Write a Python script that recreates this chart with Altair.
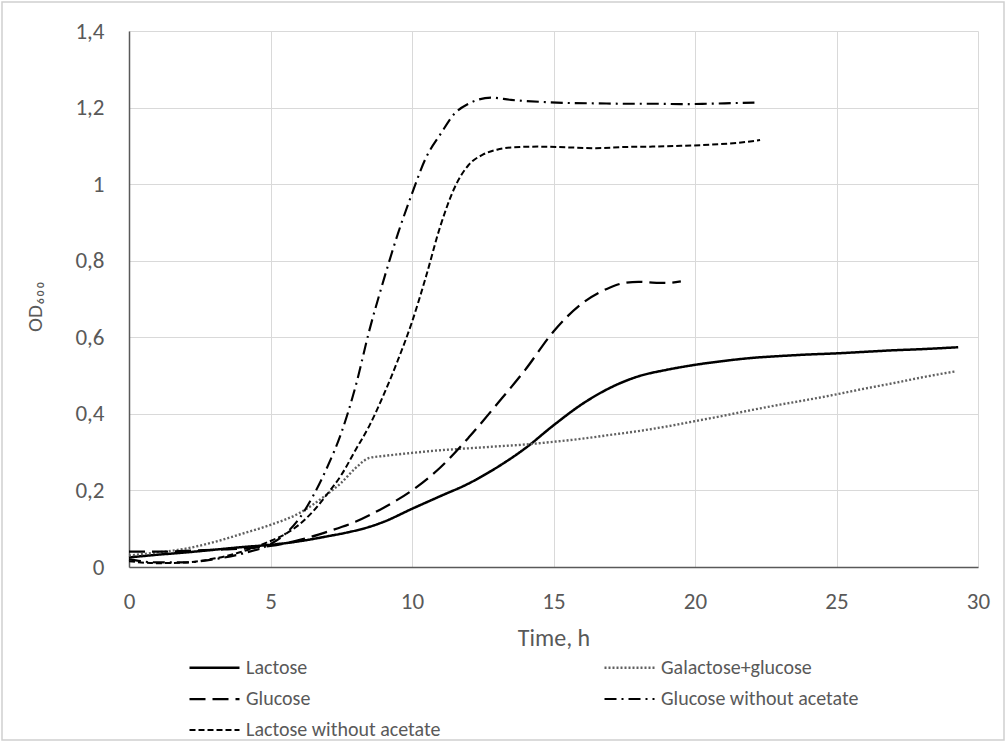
import altair as alt
import pandas as pd

series_names = ["Lactose", "Galactose+glucose", "Glucose",
                "Glucose without acetate", "Lactose without acetate"]

lac_t = [0, 1, 2, 3, 4, 5, 6, 7, 7.7, 8.5, 9, 10, 11, 12, 13, 14, 15, 16, 17, 18,
         19, 20, 21, 22, 23, 24, 25, 26, 27, 28, 29.3]
lac_v = [0.025, 0.032, 0.038, 0.045, 0.052, 0.058, 0.067, 0.08, 0.09, 0.105, 0.118,
         0.152, 0.185, 0.218, 0.26, 0.31, 0.37, 0.425, 0.468, 0.498, 0.515, 0.528,
         0.538, 0.546, 0.551, 0.555, 0.558, 0.562, 0.566, 0.569, 0.574]

gal_t = [0, 1, 2, 3, 4, 5, 6, 7, 7.5, 8, 8.5, 9, 10, 11, 12, 13, 14, 15, 16, 17,
         18, 19, 20, 21, 22, 23, 24, 25, 26, 27, 28, 29.2]
gal_v = [0.03, 0.038, 0.048, 0.065, 0.087, 0.11, 0.14, 0.19, 0.22, 0.258, 0.285,
         0.29, 0.298, 0.305, 0.31, 0.315, 0.32, 0.327, 0.335, 0.345, 0.355, 0.367,
         0.381, 0.395, 0.41, 0.424, 0.437, 0.451, 0.466, 0.48, 0.495, 0.511]

glu_t = [0, 1, 2, 3, 4, 5, 6, 7, 8, 9, 10, 11, 12, 13, 14, 15, 16, 17, 17.5, 18,
         18.5, 19, 19.5]
glu_v = [0.04, 0.04, 0.042, 0.045, 0.048, 0.055, 0.07, 0.092, 0.118, 0.155, 0.2,
         0.26, 0.338, 0.425, 0.515, 0.615, 0.688, 0.73, 0.742, 0.745, 0.743, 0.742,
         0.746]

gwa_t = [0, 1, 2, 3, 4, 5, 5.5, 6, 6.5, 7, 7.5, 8, 8.5, 9, 9.5, 10, 10.5, 11, 11.5,
         12, 12.8, 13.5, 14.5, 15.5, 16.5, 17.5, 18.5, 19.5, 20.5, 21.5, 22.1]
gwa_v = [0.02, 0.012, 0.012, 0.02, 0.035, 0.06, 0.085, 0.125, 0.185, 0.26, 0.35,
         0.47, 0.62, 0.75, 0.87, 0.975, 1.07, 1.13, 1.184, 1.21, 1.226, 1.22, 1.215,
         1.212, 1.211, 1.21, 1.21, 1.209, 1.21, 1.212, 1.213]

lwa_t = [0, 1, 2, 3, 4, 5, 5.5, 6, 6.5, 7, 7.5, 8, 8.5, 9, 9.5, 10, 10.5, 11, 11.5,
         12, 12.5, 13, 13.5, 14.5, 15.5, 16.5, 17.5, 18.5, 19.5, 20.5, 21.5, 22.3]
lwa_v = [0.015, 0.01, 0.012, 0.022, 0.04, 0.068, 0.085, 0.11, 0.145, 0.19, 0.24,
         0.305, 0.37, 0.45, 0.54, 0.64, 0.76, 0.89, 0.99, 1.05, 1.077, 1.09, 1.096,
         1.098, 1.096, 1.094, 1.097, 1.098, 1.1, 1.103, 1.108, 1.115]

x_ticks = [0, 5, 10, 15, 20, 25, 30]
y_ticks = [0, 0.2, 0.4, 0.6, 0.8, 1.0, 1.2, 1.4]

rows = []
for name, ts, vs in zip(series_names,
                        [lac_t, gal_t, glu_t, gwa_t, lwa_t],
                        [lac_v, gal_v, glu_v, gwa_v, lwa_v]):
    for t, v in zip(ts, vs):
        rows.append({"series": name, "time": t, "od": v})
df = pd.DataFrame(rows)

FONT = "Carlito, Lato, sans-serif"

dash_range = [[1, 0], [2, 2], [16, 7], [12, 5, 2, 5], [6, 3]]
color_range = ["#000000", "#606060", "#000000", "#000000", "#000000"]
width_range = [2.5, 2.0, 2.5, 2.5, 2.5]

leg = alt.Legend(
    title=None, orient="none", legendX=74, legendY=625, columns=2,
    direction="horizontal", symbolType="M-2.5,0H2.5", symbolSize=400,
    labelFont=FONT, labelFontSize=20, labelLimit=400,
    labelColor="#595959", columnPadding=158, rowPadding=9.5, labelOffset=20,
)

lines = alt.Chart(df).mark_line(interpolate="monotone").encode(
    x=alt.X("time:Q", scale=alt.Scale(domain=[0, 30], nice=False),
            axis=alt.Axis(values=x_ticks, title="Time, h", titleY=71,
                          titleBaseline="middle", titleFontSize=24,
                          labelFlush=False, labelPadding=23)),
    y=alt.Y("od:Q", scale=alt.Scale(domain=[0, 1.4], nice=False),
            axis=alt.Axis(values=y_ticks, title="OD₆₀₀", titleX=-94, titleY=275,
                          titleAngle=-90, titleAlign="center", titleBaseline="middle",
                          titleFontSize=21, labelPadding=25,
                          labelExpr="replace(format(datum.value, '.1~f'), '.', ',')")),
    strokeDash=alt.StrokeDash("series:N", sort=series_names,
                              scale=alt.Scale(domain=series_names, range=dash_range),
                              legend=leg),
    color=alt.Color("series:N", sort=series_names,
                    scale=alt.Scale(domain=series_names, range=color_range),
                    legend=leg),
    strokeWidth=alt.StrokeWidth("series:N", sort=series_names,
                                scale=alt.Scale(domain=series_names, range=width_range),
                                legend=leg),
    detail="series:N",
)

border = alt.Chart(pd.DataFrame({"a": [0]})).mark_rect(
    fill=None, stroke="#d0d0d0", strokeWidth=1.5
).encode(x=alt.value(-127), x2=alt.value(875), y=alt.value(-29), y2=alt.value(709))

chart = alt.layer(lines, border).properties(
    width=849, height=536,
    padding={"left": 129, "top": 31, "right": 28, "bottom": 175},
    autosize=alt.AutoSizeParams(type="none"),
    background="white",
).configure_view(stroke=None).configure_axis(
    grid=True, gridColor="#d9d9d9", gridWidth=1, ticks=False,
    domainColor="#595959", domainWidth=1.5,
    labelFont=FONT, labelFontSize=23, labelColor="#595959",
    titleFont=FONT, titleColor="#595959", titleFontWeight="normal",
)

chart.save("out.html", embed_options={"renderer": "svg", "actions": False})
